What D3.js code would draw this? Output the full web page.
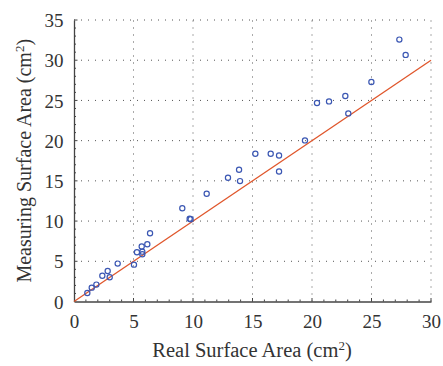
<!DOCTYPE html>
<html>
<head>
<meta charset="utf-8">
<script src="https://cdn.jsdelivr.net/npm/d3@7"></script>
<style>
  body { margin: 0; background: #fff; }
  svg text { font-family: "Liberation Serif", "DejaVu Serif", serif; fill: #333; }
</style>
</head>
<body>
<svg id="chart" width="443" height="366"></svg>
<script>
// real surface area (cm2)
var realArea = [1.12, 1.49, 1.88, 2.38, 2.83, 3.0, 3.67, 5.04, 5.29, 5.69, 5.74, 5.74,
	6.16, 6.39, 9.1, 9.72, 9.8, 11.15, 12.94, 13.87, 13.95, 15.24, 16.53, 17.23,
	17.23, 19.41, 20.42, 21.43, 22.8, 23.05, 24.99, 27.34, 27.87];
// measuring surface area (cm2)
var measArea = [1.06, 1.72, 2.1, 3.21, 3.8, 3.01, 4.71, 4.58, 6.13, 6.83, 6.2, 5.88,
	7.12, 8.49, 11.6, 10.3, 10.22, 13.39, 15.38, 16.38, 14.97, 18.37, 18.37, 18.16,
	16.17, 20.03, 24.68, 24.88, 25.55, 23.39, 27.3, 32.56, 30.66];
var refLine = [[0, 0], [30, 30]];
var xTicks = [0, 5, 10, 15, 20, 25, 30];
var yTicks = [0, 5, 10, 15, 20, 25, 30, 35];

var svg = d3.select('#chart');

var x = d3.scaleLinear().domain([0, 30]).range([74, 431]);
var y = d3.scaleLinear().domain([0, 35]).range([301.5, 20]);

// grid
var grid = svg.append('g')
	.attr('class', 'grid')
	.attr('stroke', '#555')
	.attr('stroke-width', 1)
	.attr('stroke-dasharray', '1,6');

grid.selectAll('.vgrid')
	.data(xTicks.slice(1))
	.enter()
	.append('line')
	.attr('class', 'vgrid')
	.attr('x1', function(d) { return x(d); })
	.attr('x2', function(d) { return x(d); })
	.attr('y1', y(0))
	.attr('y2', y(35));

grid.selectAll('.hgrid')
	.data(yTicks.slice(1))
	.enter()
	.append('line')
	.attr('class', 'hgrid')
	.attr('x1', x(0))
	.attr('x2', x(30))
	.attr('y1', function(d) { return y(d); })
	.attr('y2', function(d) { return y(d); });

// axes
var xAxis = svg.append('g')
	.attr('transform', 'translate(0,' + y(0) + ')')
	.call(d3.axisBottom(x).tickValues(xTicks).tickSize(0).tickPadding(13));

var yAxis = svg.append('g')
	.attr('transform', 'translate(' + x(0) + ',0)')
	.call(d3.axisLeft(y).tickValues(yTicks).tickSize(0).tickPadding(10.5));

[xAxis, yAxis].forEach(function(a) {
	a.select('.domain').attr('stroke', '#444').attr('stroke-width', 1.3);
	a.selectAll('text').attr('font-size', 19).attr('fill', '#333')
		.attr('font-family', '"Liberation Serif", "DejaVu Serif", serif');
});
yAxis.selectAll('text').attr('dy', '0.35em');

// inward ticks
var ticks = svg.append('g').attr('stroke', '#444').attr('stroke-width', 1);
ticks.selectAll('.xt')
	.data(d3.range(1, 31))
	.enter()
	.append('line')
	.attr('x1', function(d) { return x(d); })
	.attr('x2', function(d) { return x(d); })
	.attr('y1', y(0))
	.attr('y2', function(d) { return y(0) - (d % 5 === 0 ? 3.5 : 2); });
ticks.selectAll('.yt')
	.data(d3.range(1, 36))
	.enter()
	.append('line')
	.attr('y1', function(d) { return y(d); })
	.attr('y2', function(d) { return y(d); })
	.attr('x1', x(0))
	.attr('x2', function(d) { return x(0) + (d % 5 === 0 ? 3.5 : 2); });

// y = x line
svg.append('path')
	.datum(refLine)
	.attr('fill', 'none')
	.attr('stroke', '#e0562b')
	.attr('stroke-width', 1.3)
	.attr('d', d3.line()
		.x(function(d) { return x(d[0]); })
		.y(function(d) { return y(d[1]); }));

// points
svg.append('g').selectAll('circle')
	.data(realArea)
	.enter()
	.append('circle')
	.attr('cx', function(d) { return x(d); })
	.attr('cy', function(d, i) { return y(measArea[i]); })
	.attr('r', 2.6)
	.attr('fill', 'none')
	.attr('stroke', '#3b57b3')
	.attr('stroke-width', 1.2);

// titles
svg.append('text')
	.attr('x', 252)
	.attr('y', 357)
	.attr('text-anchor', 'middle')
	.attr('font-size', 20.5)
	.html('Real Surface Area (cm<tspan baseline-shift="super" font-size="13">2</tspan>)');

svg.append('text')
	.attr('transform', 'translate(31,' + y(17.5) + ') rotate(-90)')
	.attr('text-anchor', 'middle')
	.attr('font-size', 20)
	.html('Measuring Surface Area (cm<tspan baseline-shift="super" font-size="13">2</tspan>)');
</script>
</body>
</html>
